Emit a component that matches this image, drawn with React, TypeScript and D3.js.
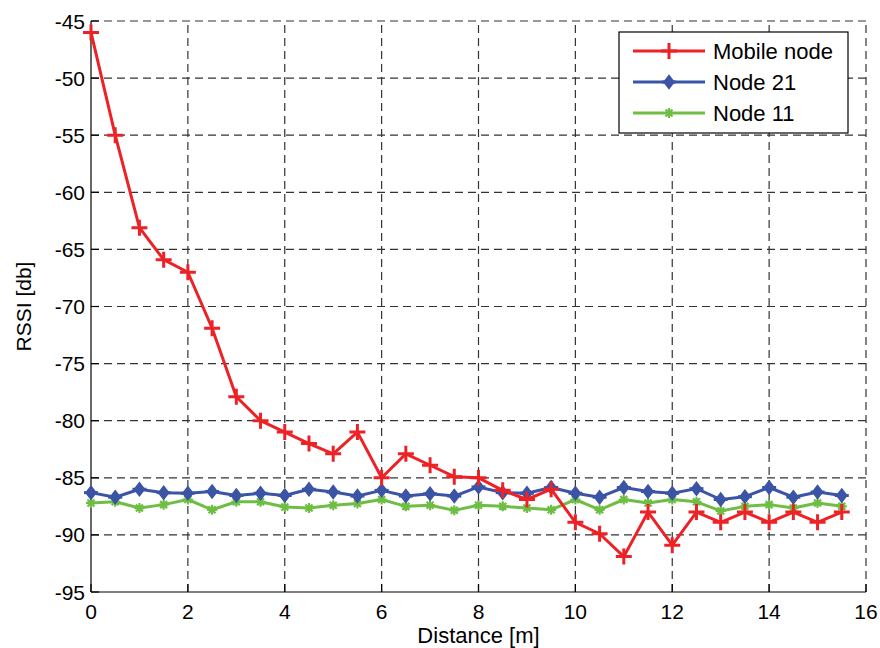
import React, { useEffect, useRef } from "react";
import * as d3 from "d3";

const distances = [0, 0.5, 1, 1.5, 2, 2.5, 3, 3.5, 4, 4.5, 5, 5.5, 6, 6.5, 7, 7.5, 8, 8.5, 9, 9.5, 10, 10.5, 11, 11.5, 12, 12.5, 13, 13.5, 14, 14.5, 15, 15.5];

const mobileNode = [-46, -55, -63.1, -65.9, -67, -71.9, -77.9, -80, -81, -82, -82.9, -81, -85, -82.9, -83.9, -84.9, -85, -86.1, -86.9, -86, -88.9, -89.9, -91.9, -88, -90.9, -88, -88.9, -88, -88.9, -88, -88.9, -88];
const node21 = [-86.3, -86.7, -86.0, -86.3, -86.35, -86.2, -86.55, -86.35, -86.55, -86.0, -86.25, -86.6, -86.1, -86.6, -86.4, -86.6, -85.8, -86.3, -86.35, -85.85, -86.35, -86.7, -85.85, -86.2, -86.35, -85.95, -86.9, -86.65, -85.85, -86.7, -86.25, -86.55];
const node11 = [-87.2, -87.1, -87.65, -87.35, -86.9, -87.8, -87.1, -87.1, -87.55, -87.65, -87.4, -87.25, -86.9, -87.5, -87.4, -87.85, -87.4, -87.5, -87.65, -87.8, -86.9, -87.8, -86.9, -87.2, -86.9, -87.1, -87.9, -87.5, -87.35, -87.65, -87.2, -87.5];

const xTicks = [0, 2, 4, 6, 8, 10, 12, 14, 16];
const yTicks = [-45, -50, -55, -60, -65, -70, -75, -80, -85, -90, -95];

const series = [
  { name: "Mobile node", values: mobileNode, color: "#ec2227", marker: "plus" },
  { name: "Node 21", values: node21, color: "#3b54a5", marker: "diamond" },
  { name: "Node 11", values: node11, color: "#6fbe44", marker: "star" },
];

const W = 880, H = 648;
const margin = { left: 91, right: 14, top: 21, bottom: 56 };
const font = "Arial, 'Liberation Sans', Helvetica, sans-serif";

function drawMarker(g: any, type: string, x: number, y: number, color: string) {
  if (type === "plus") {
    g.append("path").attr("d", `M${x - 8},${y}H${x + 8}M${x},${y - 8}V${y + 8}`)
      .attr("stroke", color).attr("stroke-width", 3).attr("fill", "none");
  } else if (type === "diamond") {
    g.append("path").attr("d", `M${x},${y - 6.5}L${x + 5},${y}L${x},${y + 6.5}L${x - 5},${y}Z`)
      .attr("fill", color).attr("stroke", color).attr("stroke-width", 1.5);
    g.append("path").attr("d", `M${x - 7},${y}H${x + 7}`).attr("stroke", color).attr("stroke-width", 3);
  } else {
    const r = 5;
    g.append("path")
      .attr("d", `M${x - r},${y}H${x + r}M${x},${y - r}V${y + r}M${x - r * 0.7},${y - r * 0.7}L${x + r * 0.7},${y + r * 0.7}M${x - r * 0.7},${y + r * 0.7}L${x + r * 0.7},${y - r * 0.7}`)
      .attr("stroke", color).attr("stroke-width", 2.2).attr("fill", "none");
  }
}

export default function App() {
  const ref = useRef<SVGSVGElement>(null);

  useEffect(() => {
    const svg = d3.select(ref.current);
    svg.selectAll("*").remove();

    const x = d3.scaleLinear().domain([0, 16]).range([margin.left, W - margin.right]);
    const y = d3.scaleLinear().domain([-95, -45]).range([H - margin.bottom, margin.top]);

    svg.append("rect").attr("width", W).attr("height", H).attr("fill", "#fff");

    const grid = svg.append("g").attr("stroke", "#333").attr("stroke-width", 1.2).attr("stroke-dasharray", "8,5");
    xTicks.slice(1).forEach(t => {
      grid.append("line").attr("x1", x(t)).attr("x2", x(t)).attr("y1", y(-95)).attr("y2", y(-45));
    });
    yTicks.slice(0, -1).forEach(t => {
      grid.append("line").attr("x1", x(0)).attr("x2", x(16)).attr("y1", y(t)).attr("y2", y(t));
    });

    // axes
    const ax = svg.append("g").attr("stroke", "#000").attr("stroke-width", 1.2);
    ax.append("line").attr("x1", x(0)).attr("x2", x(0)).attr("y1", y(-95)).attr("y2", y(-45));
    ax.append("line").attr("x1", x(0)).attr("x2", x(16)).attr("y1", y(-95)).attr("y2", y(-95));
    yTicks.forEach(t => {
      ax.append("line").attr("x1", x(0)).attr("x2", x(0) + 8).attr("y1", y(t)).attr("y2", y(t));
    });
    xTicks.forEach(t => {
      ax.append("line").attr("x1", x(t)).attr("x2", x(t)).attr("y1", y(-95)).attr("y2", y(-95) - 8);
    });

    svg.append("g").selectAll("text").data(yTicks).join("text")
      .attr("x", x(0) - 6).attr("y", d => y(d)).attr("dy", "0.36em")
      .attr("text-anchor", "end").attr("font-family", font).attr("font-size", 21)
      .text(d => d);
    svg.append("g").selectAll("text").data(xTicks).join("text")
      .attr("x", d => x(d)).attr("y", y(-95) + 27)
      .attr("text-anchor", "middle").attr("font-family", font).attr("font-size", 21)
      .text(d => d);

    svg.append("text").attr("x", (x(0) + x(16)) / 2).attr("y", 643)
      .attr("text-anchor", "middle").attr("font-family", font).attr("font-size", 22)
      .text("Distance [m]");
    svg.append("text").attr("transform", `translate(31,${(y(-45) + y(-95)) / 2}) rotate(-90)`)
      .attr("text-anchor", "middle").attr("font-family", font).attr("font-size", 21)
      .text("RSSI [db]");

    const line = d3.line<number>().x((d, i) => x(distances[i])).y(d => y(d));
    [...series].reverse().forEach(s => {
      const g = svg.append("g");
      g.append("path").attr("d", line(s.values)).attr("fill", "none")
        .attr("stroke", s.color).attr("stroke-width", 3).attr("stroke-linejoin", "round");
      s.values.forEach((v, i) => drawMarker(g, s.marker, x(distances[i]), y(v), s.color));
    });

    // legend
    const lg = svg.append("g");
    lg.append("rect").attr("x", 619).attr("y", 32).attr("width", 229).attr("height", 101)
      .attr("fill", "#fff").attr("stroke", "#000").attr("stroke-width", 1.2);
    series.forEach((s, i) => {
      const yy = 51 + i * 31;
      lg.append("line").attr("x1", 633).attr("x2", 705).attr("y1", yy).attr("y2", yy)
        .attr("stroke", s.color).attr("stroke-width", 3);
      drawMarker(lg, s.marker, 669, yy, s.color);
      lg.append("text").attr("x", 713).attr("y", yy).attr("dy", "0.36em")
        .attr("font-family", font).attr("font-size", 22).text(s.name);
    });
  }, []);

  return <svg ref={ref} width={W} height={H} style={{ display: "block", position: "absolute", left: 0, top: 0 }} />;
}
